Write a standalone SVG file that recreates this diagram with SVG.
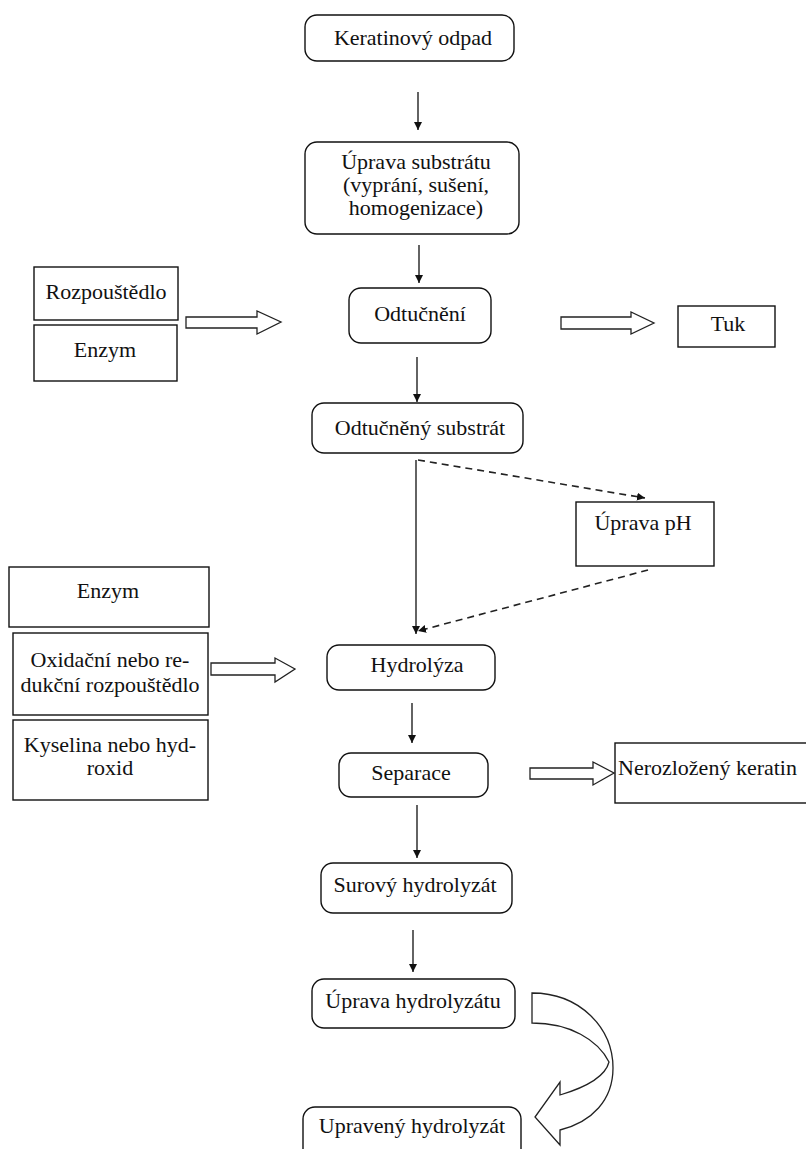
<svg xmlns="http://www.w3.org/2000/svg" width="806" height="1149" viewBox="0 0 806 1149">
<style>
.n{fill:#fff;stroke:#111;stroke-width:1.4}
.t{font-family:'Liberation Serif','Times New Roman','DejaVu Serif',serif;font-size:22px;fill:#111;text-anchor:middle}
.c{stroke:#222;stroke-width:1.4;fill:none}
.d{stroke:#222;stroke-width:1.6;fill:none;stroke-dasharray:7,5}
.h{fill:#fff;stroke:#222;stroke-width:1.3}
</style>
<defs>
<marker id="ah" viewBox="0 0 10 10" refX="10" refY="5" markerWidth="8" markerHeight="8" markerUnits="userSpaceOnUse" orient="auto">
<path d="M0,0 L10,5 L0,10 Z" fill="#111"/>
</marker>
</defs>
<rect width="806" height="1149" fill="#fff"/>

<g id="connectors">
<line class="c" x1="418" y1="92" x2="418" y2="130" marker-end="url(#ah)"/>
<line class="c" x1="419" y1="245" x2="419" y2="283" marker-end="url(#ah)"/>
<line class="c" x1="417" y1="357" x2="417" y2="402" marker-end="url(#ah)"/>
<line class="c" x1="416" y1="460" x2="416" y2="634" marker-end="url(#ah)"/>
<line class="d" x1="418" y1="460" x2="645" y2="498" marker-end="url(#ah)"/>
<line class="d" x1="648" y1="570" x2="418" y2="631" marker-end="url(#ah)"/>
<line class="c" x1="412" y1="703" x2="412" y2="743" marker-end="url(#ah)"/>
<line class="c" x1="417" y1="805" x2="417" y2="858" marker-end="url(#ah)"/>
<line class="c" x1="413" y1="930" x2="413" y2="972" marker-end="url(#ah)"/>
<polygon class="h" points="186,317 257,317 257,311 281,322 257,334 257,328 186,328"/>
<polygon class="h" points="561,317 631,317 631,312 654,323 631,334 631,329 561,329"/>
<polygon class="h" points="211,663 275,663 275,658 295,669 275,682 275,675 211,675"/>
<polygon class="h" points="530,768 593,768 593,762 614,773 593,785 593,779 530,779"/>
<path class="h" d="M532,993 C580,993 613,1028 613,1068 C613,1100 592,1122 560,1130 L560,1145 L535,1117 L560,1082 L560,1095 C590,1086 606,1074 609,1062 C598,1040 570,1023 532,1023 Z"/>
</g>

<g id="keratinovy-odpad"><rect class="n" x="305" y="15" width="209" height="46" rx="12"/><text class="t" x="413" y="45">Keratinový odpad</text></g>
<g id="uprava-substratu"><rect class="n" x="305" y="142" width="214" height="92" rx="12"/><text class="t" x="416" y="169">Úprava substrátu</text><text class="t" x="416" y="192">(vyprání, sušení,</text><text class="t" x="416" y="215">homogenizace)</text></g>
<g id="odtucneni"><rect class="n" x="349" y="288" width="142" height="55" rx="12"/><text class="t" x="420" y="321">Odtučnění</text></g>
<g id="odtucneny-substrat"><rect class="n" x="312" y="403" width="211" height="50" rx="12"/><text class="t" x="420" y="435">Odtučněný substrát</text></g>
<g id="hydrolyza"><rect class="n" x="327" y="645" width="168" height="45" rx="12"/><text class="t" x="417" y="672">Hydrolýza</text></g>
<g id="separace"><rect class="n" x="339" y="753" width="149" height="44" rx="12"/><text class="t" x="411" y="780">Separace</text></g>
<g id="surovy-hydrolyzat"><rect class="n" x="321" y="863" width="191" height="50" rx="12"/><text class="t" x="415" y="892">Surový hydrolyzát</text></g>
<g id="uprava-hydrolyzatu"><rect class="n" x="312" y="979" width="203" height="49" rx="12"/><text class="t" x="413" y="1008">Úprava hydrolyzátu</text></g>
<g id="upraveny-hydrolyzat"><rect class="n" x="303" y="1107" width="218" height="60" rx="12"/><text class="t" x="412" y="1133">Upravený hydrolyzát</text></g>

<g id="rozpoustedlo"><rect class="n" x="34" y="267" width="144" height="53"/><text class="t" x="106" y="299">Rozpouštědlo</text></g>
<g id="enzym-1"><rect class="n" x="34" y="325" width="143" height="56"/><text class="t" x="105" y="357">Enzym</text></g>
<g id="tuk"><rect class="n" x="678" y="306" width="97" height="41"/><text class="t" x="728" y="331">Tuk</text></g>
<g id="uprava-ph"><rect class="n" x="576" y="502" width="138" height="64"/><text class="t" x="643" y="530">Úprava pH</text></g>
<g id="enzym-2"><rect class="n" x="9" y="567" width="200" height="60"/><text class="t" x="108" y="598">Enzym</text></g>
<g id="oxidacni"><rect class="n" x="13" y="633" width="195" height="82"/><text class="t" x="110" y="667">Oxidační nebo re-</text><text class="t" x="110" y="692">dukční rozpouštědlo</text></g>
<g id="kyselina"><rect class="n" x="13" y="720" width="195" height="80"/><text class="t" x="110" y="752">Kyselina nebo hyd-</text><text class="t" x="110" y="775">roxid</text></g>
<g id="nerozlozeny-keratin"><rect class="n" x="615" y="743" width="200" height="60"/><text class="t" x="618" y="775" style="text-anchor:start">Nerozložený keratin</text></g>
</svg>
